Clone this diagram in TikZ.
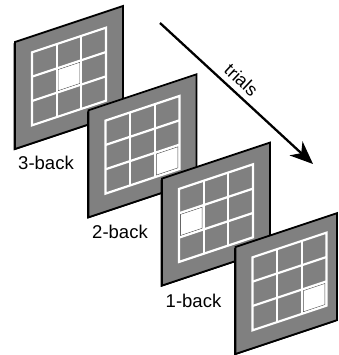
\documentclass[tikz,border=0pt]{standalone}
\usepackage{fontspec}
\setmainfont{Liberation Sans}
\usetikzlibrary{arrows.meta}
\definecolor{panelgray}{RGB}{128,128,128}
\definecolor{celledge}{RGB}{80,80,80}

\tikzset{
  panelshadow/.style={fill=black},
  panelface/.style={fill=panelgray, draw=black, line width=1.8pt, line join=miter},
  gridline/.style={draw=white, line width=2.2pt},
  cellmark/.style={draw=celledge, line width=0.6pt},
  backlabel/.style={font=\fontsize{18.5}{22}\selectfont, anchor=base, inner sep=0pt},
}

% #1,#2: top-left corner; #3: width; #4,#5: column and row of the lit cell
\newcommand\trialpanel[5]{%
\begin{scope}[shift={(#1,#2)}, x={(1pt,0.33333pt)}, y={(0pt,-1pt)}]
  \fill[panelshadow, shift={(-1.3pt,-1.3pt)}] (0,0) -- (#3,0) -- (#3,107) -- (0,107) -- cycle;
  \path[panelface] (0,0) -- (#3,0) -- (#3,107) -- (0,107) -- cycle;
  \pgfmathsetmacro\cu{17+(#4-1)*74/3}
  \pgfmathsetmacro\cv{16+(#5-1)*73/3}
  \pgfmathsetmacro\cU{\cu+74/3}
  \pgfmathsetmacro\cV{\cv+73/3}
  \fill[white] (\cu,\cv) -- (\cU,\cv) -- (\cU,\cV) -- (\cu,\cV) -- cycle;
  \draw[cellmark] (\cu+1.5,\cv+1.5) -- (\cU-1.5,\cv+1.5) -- (\cU-1.5,\cV-1.5) -- (\cu+1.5,\cV-1.5) -- cycle;
  \path[gridline] (17,16) -- (91,16) -- (91,89) -- (17,89) -- cycle;
  \foreach \i in {1,2} {
    \path[gridline] (17+\i*74/3,16) -- (17+\i*74/3,89);
    \path[gridline] (17,16+\i*73/3) -- (91,16+\i*73/3);
  }
\end{scope}}

\begin{document}
\begin{tikzpicture}[x=1pt,y=-1pt]
\useasboundingbox (0,0) rectangle (338,355);

% the four stimulus screens, back to front
\trialpanel{15}{42}{108}{2}{2}
\trialpanel{88.5}{110.3}{108}{3}{3}
\trialpanel{162}{178.6}{108}{1}{2}
\trialpanel{235.5}{247}{101.5}{3}{3}

% condition labels
\node[backlabel] (lab3) at (46,170) {3-back};
\node[backlabel] (lab2) at (120,238) {2-back};
\node[backlabel] (lab1) at (193.5,307) {1-back};

% time axis
\coordinate (tstart) at (160,23);
\coordinate (tend) at (313,164);
\draw[line width=2.3pt, -{Stealth[length=23pt, width=19pt, inset=7pt]}] (tstart) -- (tend);
\node[font=\fontsize{18}{21}\selectfont, rotate=-43, inner sep=0pt] (trials) at (241.5,80) {trials};
\end{tikzpicture}
\end{document}
